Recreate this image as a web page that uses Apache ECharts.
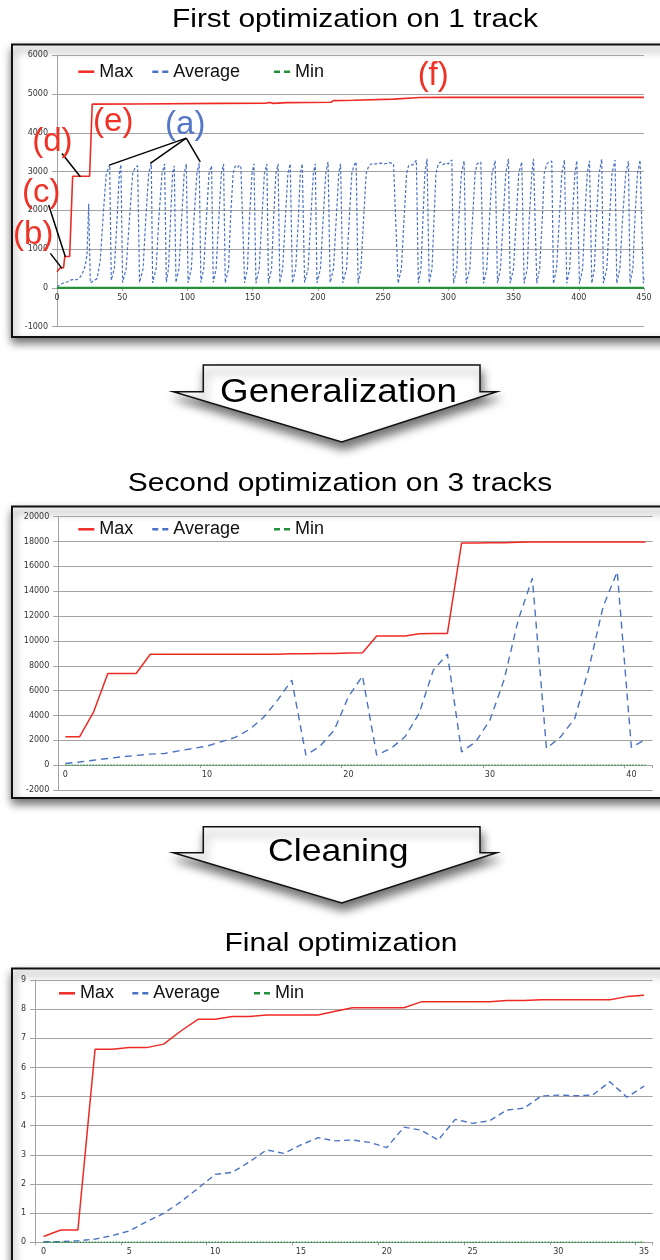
<!DOCTYPE html>
<html><head><meta charset="utf-8">
<script src="https://cdn.jsdelivr.net/npm/echarts@6/dist/echarts.min.js"></script>
<style>html,body{margin:0;padding:0;background:#fff}#c{width:660px;height:1260px}</style>
</head><body><div id="c"></div>
<script>
// ---------- DATA ----------
// Chart 1: First optimization on 1 track  ([generation, fitness] vertices)
const maxTop = [[0,420],[2.5,520],[5,520],[6,810],[9.7,810],[12,2880],[25,2880],[27,4740],[60,4745],[125,4760],[160,4765],[163,4785],[166,4760],[176,4780],[210,4790],[212,4830],[227,4840],[258,4870],[278,4910],[300,4915],[450,4915]];
const avgTop = [[0,26],[3.8,111],[7.7,154],[11.5,214],[15.3,214],[17.9,283],[19.9,411],[21.7,583],[23,840],[24.3,2170],[25.5,130],[26.8,95],[30.7,240],[33.2,710],[35.8,2080],[37.8,2940],[40.4,3180],[41.6,200],
[42.5,150],[44,500],[46,1750],[47.8,2950],[49,3180],[50.3,140],
[51,130],[53,500],[55.5,1750],[58,2950],[60,3120],[61.8,3150],[63.3,140],
[64,150],[66,500],[68,1750],[70.3,2950],[72.3,3200],[73.3,130],
[74,140],[76,500],[78,1750],[80.5,2950],[82.5,3200],[83.8,150],
[84.5,160],[85.5,500],[87,1750],[88.6,2950],[89.9,3150],[91.2,140],
[92,150],[93.5,500],[95.5,1750],[97.5,2950],[99.1,3200],[100.5,130],
[101.5,140],[103,500],[105,1750],[107.2,2950],[109,3220],[110.3,140],
[111,150],[112.5,500],[114.5,1750],[116.5,2950],[118.5,3150],[119.8,140],
[120.5,160],[122,500],[124,1750],[126,2950],[127.7,3200],[129,130],
[130,140],[131.5,500],[133,1750],[135,2950],[136.7,3150],[138.5,3110],[140,3170],[141,3100],[142.5,3150],[143.8,130],
[144.5,140],[146,500],[147.5,1750],[149.5,2950],[151,3200],[152.5,120],
[153,130],[155,500],[157,1750],[159,2950],[160.9,3200],[162.1,120],
[163,140],[164.5,500],[166,1750],[167.8,2950],[169.5,3200],[170.8,130],
[171.5,150],[173,500],[175,1750],[177,2950],[178.8,3200],[180.5,120],
[181,140],[183,500],[185,1750],[186.5,2950],[188,3200],[189.8,140],
[190.5,150],[192.5,500],[194.5,1750],[196.5,2950],[198,3200],[199.3,130],
[200.5,140],[202,500],[204,1750],[206,2950],[207.8,3250],[209.4,140],
[210,160],[212,500],[214,1750],[216,2950],[217.4,3200],[219.1,130],
[220,150],[222,500],[224,1750],[226,2950],[227.5,3150],[229.3,3250],[230.8,120],
[231.5,140],[233,500],[235,1750],[237,2950],[239,3150],[241,3200],[245,3200],[248,3220],[251,3200],[255,3230],[258,3200],[259.5,3250],[261.5,120],
[262.3,130],[264,500],[266,1750],[268,2950],[269.5,3150],[271,3200],[273,3180],[275.5,3300],[277,130],
[277.5,140],[279,500],[280.5,1750],[282,2950],[283.7,3330],[285.3,130],
[286,140],[287.5,500],[289,1750],[290.5,2950],[292.4,3200],[294,3250],[296,3180],[298,3220],[300,3200],[302.7,3300],[304,120],
[305,140],[306.5,500],[308,1750],[310,2950],[312.1,3280],[313.7,120],
[314.5,140],[316.5,500],[318.5,1750],[320.5,2950],[322,3200],[324.9,3250],[327,120],
[327.5,140],[329.5,500],[331.5,1750],[333.5,2950],[335.9,3280],[337.7,120],
[338.5,140],[340,500],[342,1750],[344,2950],[346.1,3330],[347.4,120],
[348.5,140],[350,500],[352,1750],[354,2950],[356.3,3250],[358.1,120],
[359,140],[360.5,500],[362,1750],[364,2950],[365.3,3330],[367.8,120],
[368.5,140],[370,500],[372,1750],[373.5,2950],[375.5,3200],[377.5,3250],[379.3,3270],[380.6,110],
[381.5,140],[383,500],[385,1750],[387,2950],[389,3300],[390.8,120],
[391.5,140],[393,500],[395,1750],[397,2950],[398.5,3280],[400.5,110],
[401.5,140],[403,500],[404.5,1750],[406.5,2950],[408.2,3280],[410,120],
[410.5,140],[412,500],[413.5,1750],[415.5,2950],[417.6,3320],[418.9,120],
[419.5,140],[421.5,500],[423.5,1750],[425.5,2950],[427.8,3300],[429.1,120],
[430,140],[431.5,500],[433.5,1750],[436,2950],[438.1,3270],[439.3,120],
[440,140],[441.5,500],[443,1750],[445,2950],[447,3300],[449.5,120],[450,250]];
const minTop = [[0,0],[450,0]];

// Chart 2: Second optimization on 3 tracks
const catMid = ['0','1','2','3','4','5','6','7','8','9','10','11','12','13','14','15','16','17','18','19','20','21','22','23','24','25','26','27','28','29','30','31','32','33','34','35','36','37','38','39','40','41'];
const maxMid = [2280,2280,4290,7375,7375,7375,8930,8930,8930,8930,8930,8930,8930,8930,8930,8930,8960,8970,8980,8990,9030,9040,10400,10400,10400,10580,10600,10600,17880,17890,17900,17900,17950,17960,17960,17960,17960,17960,17960,17960,17960,17960];
const avgMid = [130,250,400,540,670,780,885,940,1150,1340,1530,1880,2230,2870,3840,5235,6850,805,1530,2820,5500,7170,805,1345,2280,4165,7650,8940,1070,1880,3625,6850,11680,15040,1345,2280,3760,7790,12750,15570,1425,2070];
const minMid = [0,0,0,0,0,0,0,0,0,0,0,0,0,0,0,0,0,0,0,0,0,0,0,0,0,0,0,0,0,0,0,0,0,0,0,0,0,0,0,0,0,0];

// Chart 3: Final optimization
const catBot = ['0','1','2','3','4','5','6','7','8','9','10','11','12','13','14','15','16','17','18','19','20','21','22','23','24','25','26','27','28','29','30','31','32','33','34','35'];
const maxBot = [0.2,0.42,0.42,6.62,6.62,6.68,6.68,6.8,7.25,7.65,7.65,7.75,7.75,7.8,7.8,7.8,7.8,7.93,8.05,8.05,8.05,8.05,8.25,8.25,8.25,8.25,8.25,8.3,8.3,8.32,8.32,8.32,8.32,8.32,8.43,8.48];
const avgBot = [0.02,0.02,0.05,0.11,0.23,0.39,0.71,0.99,1.39,1.85,2.33,2.4,2.76,3.17,3.05,3.34,3.59,3.48,3.51,3.43,3.25,3.95,3.85,3.51,4.22,4.08,4.17,4.54,4.6,5.02,5.05,5.03,5.05,5.51,4.98,5.36];
const minBot = [0,0,0,0,0,0,0,0,0,0,0,0,0,0,0,0,0,0,0,0,0,0,0,0,0,0,0,0,0,0,0,0,0,0,0,0];

const seriesNames = ['Max','Average','Min'];
const titles = ['First optimization on 1 track','Second optimization on 3 tracks','Final optimization'];
const arrowLabels = ['Generalization','Cleaning'];

// Annotations on chart 1, in data coordinates
const annotLabels = [
  {text:'(a)', at:[98.3,4200], color:'#5577C8'},
  {text:'(b)', at:[-18.2,1364], color:'#EE3226'},
  {text:'(c)', at:[-12.0,2446], color:'#EE3226'},
  {text:'(d)', at:[-3.6,3760], color:'#EE3226'},
  {text:'(e)', at:[43.1,4276], color:'#EE3226'},
  {text:'(f)', at:[288.4,5461], color:'#EE3226'}
];
const annotLines = [
  [[99.1,3863],[40.1,3168]],
  [[99.1,3863],[71.5,3211]],
  [[99.1,3863],[109.8,3253]],
  [[-5.1,892],[3.8,505]],
  [[-6.4,2137],[6.4,804]],
  [[3.8,3469],[17.9,2866]]
];

// ---------- STYLE ----------
const FONT = '"Liberation Sans", Arial, Helvetica, sans-serif';
const TFONT = '"DejaVu Sans", Verdana, sans-serif';
const RED = '#EE2A24', BLUE = '#4A72C4', GREEN = '#23903A';
const GRID = '#a3a3a3';
const SOLID_ICON = 'path://M0,0H16V2.5H0Z';
const DASH_ICON = 'path://M0,0H6V2.5H0Z M10,0H16V2.5H10Z';
const plain = function(v){ return String(v); };

const chart = echarts.init(document.getElementById('c'), null, {renderer:'canvas'});

function yAx(gi, min, max, interval) {
  return {gridIndex:gi, type:'value', min, max, interval, z:3,
    axisLine:{show:true, lineStyle:{color:GRID, width:1}},
    axisTick:{show:true, length:5, lineStyle:{color:GRID}},
    axisLabel:{fontSize:8, fontFamily:TFONT, color:'#333', margin:9, formatter:plain},
    splitLine:{show:true, lineStyle:{color:GRID, width:1.2}}};
}
function catAx(gi, data, iv, off) {
  return {gridIndex:gi, type:'category', data, boundaryGap:true, z:3, offset:off,
    axisLine:{onZero:false, lineStyle:{color:GRID, width:1}},
    axisTick:{show:true, interval:iv, length:3, lineStyle:{color:GRID}},
    axisLabel:{interval:iv, fontSize:8, fontFamily:TFONT, color:'#333', margin:6},
    splitLine:{show:false}};
}
function leg(name, textLeft, cy, dashed) {
  return {data:[{name, icon: dashed ? DASH_ICON : SOLID_ICON}], left:textLeft-21, top:cy-9,
    padding:0, itemWidth:16, itemHeight:2.5, selectedMode:false,
    textStyle:{fontSize:18, fontFamily:FONT, color:'#111'}};
}
function legs(xs, cy) {
  return [leg(seriesNames[0], xs[0], cy, false), leg(seriesNames[1], xs[1], cy, true), leg(seriesNames[2], xs[2], cy, true)];
}

const option = {
  animation:false,
  backgroundColor:'#ffffff',
  grid:[
    {left:57, top:55.3, width:587, height:271.4, outerBoundsMode:'none', containLabel:false},
    {left:58.3, top:516.7, width:594.3, height:273.3, outerBoundsMode:'none', containLabel:false},
    {left:35, top:980, width:617.7, height:262.3, outerBoundsMode:'none', containLabel:false}
  ],
  legend:[].concat(legs([99.3,173.3,295],71.7), legs([99.3,173.3,295],529.3), legs([80,153.3,275],993.3)),
  xAxis:[
    {gridIndex:0, type:'value', min:0, max:450, interval:50, z:3, offset:-38.8,
      axisLine:{onZero:false, lineStyle:{color:GRID}},
      axisTick:{show:true, length:3, lineStyle:{color:GRID}},
      axisLabel:{fontSize:8, fontFamily:TFONT, color:'#333', margin:6, formatter:plain},
      splitLine:{show:false}},
    catAx(1, catMid, 9, -24.85),
    catAx(2, catBot, 4, 0)
  ],
  yAxis:[ yAx(0,-1000,6000,1000), yAx(1,-2000,20000,2000), yAx(2,0,9,1) ],
  series:[
    {name:'Max', type:'line', xAxisIndex:0, yAxisIndex:0, data:maxTop, symbol:'none', z:4, color:RED, lineStyle:{color:RED, width:1.6}},
    {name:'Average', type:'line', xAxisIndex:0, yAxisIndex:0, data:avgTop, symbol:'none', z:4, color:BLUE, lineStyle:{color:BLUE, width:1.2, type:[3,2]}},
    {name:'Min', type:'line', xAxisIndex:0, yAxisIndex:0, data:minTop, symbol:'none', z:4, color:GREEN, lineStyle:{color:GREEN, width:2.2}},

    {name:'Max', type:'line', xAxisIndex:1, yAxisIndex:1, data:maxMid, symbol:'none', z:4, color:RED, lineStyle:{color:RED, width:1.5}},
    {name:'Average', type:'line', xAxisIndex:1, yAxisIndex:1, data:avgMid, symbol:'none', z:4, color:BLUE, lineStyle:{color:BLUE, width:1.4, type:[7,5]}},
    {name:'Min', type:'line', xAxisIndex:1, yAxisIndex:1, data:minMid, symbol:'none', z:4, color:GREEN, lineStyle:{color:GREEN, width:1.4, type:[1.5,1.5]}},

    {name:'Max', type:'line', xAxisIndex:2, yAxisIndex:2, data:maxBot, symbol:'none', z:4, color:RED, lineStyle:{color:RED, width:1.5}},
    {name:'Average', type:'line', xAxisIndex:2, yAxisIndex:2, data:avgBot, symbol:'none', z:4, color:BLUE, lineStyle:{color:BLUE, width:1.4, type:[6,4]}},
    {name:'Min', type:'line', xAxisIndex:2, yAxisIndex:2, data:minBot, symbol:'none', z:4, color:GREEN, lineStyle:{color:GREEN, width:1.4, type:[1.5,1.5]}}
  ]
};
chart.setOption(option);

// ---------- DECORATION (panels, arrows, titles, annotations) ----------
const panelStyle = {fill:'#fff', stroke:'#111', lineWidth:2, shadowBlur:9, shadowOffsetY:5, shadowOffsetX:1, shadowColor:'rgba(0,0,0,0.6)'};
const arrowStyle = {fill:'#fff', stroke:'#111', lineWidth:1.5, shadowBlur:10, shadowOffsetY:7, shadowOffsetX:2, shadowColor:'rgba(0,0,0,0.55)'};
function arrow(top, wing, tip) {
  return [[203.3,top],[480,top],[480,wing],[496.7,wing],[341.7,tip],[173.3,wing],[203.3,wing]];
}
function txt(text, x, y, size, color, sx) {
  return {type:'text', x, y, scaleX:sx||1, z:10,
    style:{text, x:0, y:0, textAlign:'center', textVerticalAlign:'middle', align:'center', verticalAlign:'middle',
      font: size + 'px ' + FONT, fill:color}};
}
const g = [
  {type:'rect', z:-1, shape:{x:12, y:44.5, width:700, height:292.5}, style:panelStyle},
  {type:'rect', z:-1, shape:{x:12, y:506.5, width:700, height:291.5}, style:panelStyle},
  {type:'rect', z:-1, shape:{x:12, y:968.5, width:700, height:320}, style:panelStyle},
  {type:'polygon', z:-1, shape:{points:arrow(365,391.7,442)}, style:arrowStyle},
  {type:'polygon', z:-1, shape:{points:arrow(826.7,852.7,903)}, style:arrowStyle},
  txt(titles[0], 355, 20, 26.5, '#000', 1.13),
  txt(titles[1], 340, 484, 26.5, '#000', 1.13),
  txt(titles[2], 341, 944, 26.5, '#000', 1.13),
  txt(arrowLabels[0], 338.5, 393, 32.5, '#000', 1.13),
  txt(arrowLabels[1], 338.3, 852, 31.5, '#000', 1.13)
];
annotLines.forEach(function(l){
  const p1 = chart.convertToPixel({gridIndex:0}, l[0]);
  const p2 = chart.convertToPixel({gridIndex:0}, l[1]);
  g.push({type:'line', z:10, shape:{x1:p1[0], y1:p1[1], x2:p2[0], y2:p2[1]}, style:{stroke:'#000', lineWidth:1.5}});
});
annotLabels.forEach(function(a){
  const p = chart.convertToPixel({gridIndex:0}, a.at);
  g.push(txt(a.text, p[0], p[1], 33, a.color, 1));
});
chart.setOption({graphic:{elements:g}});
</script>
</body></html>
